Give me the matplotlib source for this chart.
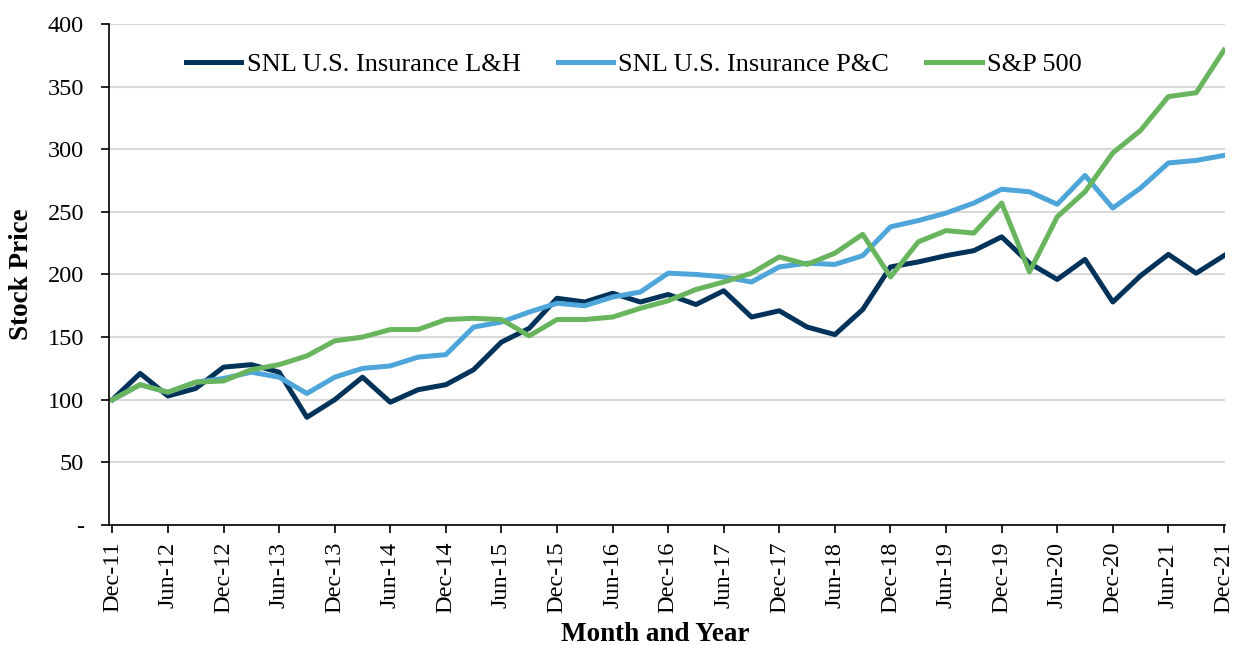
import numpy as np
import matplotlib.pyplot as plt

plt.rcParams['font.family'] = ['Liberation Serif', 'DejaVu Serif']

tick_labels = ["Dec-11", "Jun-12", "Dec-12", "Jun-13", "Dec-13", "Jun-14", "Dec-14",
               "Jun-15", "Dec-15", "Jun-16", "Dec-16", "Jun-17", "Dec-17", "Jun-18",
               "Dec-18", "Jun-19", "Dec-19", "Jun-20", "Dec-20", "Jun-21", "Dec-21"]

# quarterly values, Dec-11 .. Dec-21
lh = [100, 121, 103, 109, 126, 128, 122, 86, 100, 118, 98, 108, 112, 124, 146, 157,
      181, 178, 185, 178, 184, 176, 187, 166, 171, 158, 152, 172, 206, 210, 215, 219,
      230, 209, 196, 212, 178, 199, 216, 201, 215]
pc = [100, 112, 106, 114, 117, 122, 118, 105, 118, 125, 127, 134, 136, 158, 162, 170,
      177, 175, 182, 186, 201, 200, 198, 194, 206, 209, 208, 215, 238, 243, 249, 257,
      268, 266, 256, 279, 253, 269, 289, 291, 295]
sp = [100, 112, 106, 114, 115, 124, 128, 135, 147, 150, 156, 156, 164, 165, 164, 151,
      164, 164, 166, 173, 179, 188, 194, 201, 214, 208, 217, 232, 198, 226, 235, 233,
      257, 202, 246, 266, 297, 315, 342, 345, 379]

x = np.arange(len(lh))

fig = plt.figure(figsize=(12.39, 6.45), dpi=100)
ax = fig.add_axes([0.088, 0.186, 0.901, 0.777])

ax.plot(x, lh, color="#00325a", lw=3.6, label="SNL U.S. Insurance L&H")
ax.plot(x, pc, color="#4ea5d9", lw=3.6, label="SNL U.S. Insurance P&C")
ax.plot(x, sp, color="#68b55e", lw=3.6, label="S&P 500")

ax.set_xlim(-0.12, 40.05)
ax.set_ylim(0, 400)
ax.set_yticks(np.arange(0, 401, 50))
ax.set_yticklabels(["-"] + [str(v) for v in range(50, 401, 50)])
ax.set_xticks(np.arange(0, 41, 2))
ax.set_xticklabels(tick_labels, rotation=90)
ax.tick_params(labelsize=17.5, length=6, width=1.2, direction="out")
ax.tick_params(axis="y", pad=12)
ax.tick_params(axis="x", pad=6)

ax.grid(axis="y", color="#d9d9d9", lw=1.5)
ax.set_axisbelow(True)
for s in ["top", "right"]:
    ax.spines[s].set_visible(False)
for s in ["left", "bottom"]:
    ax.spines[s].set_linewidth(1.2)

ax.set_ylabel("Stock Price", fontsize=19.5, fontweight="bold")
ax.yaxis.set_label_coords(-0.067, 0.5)
ax.set_xlabel("Month and Year", fontsize=19.5, fontweight="bold")
ax.xaxis.set_label_coords(0.489, -0.194)

ax.legend(loc="upper left", bbox_to_anchor=(0.069, 0.943), ncol=3, frameon=False,
          borderpad=0, borderaxespad=0, fontsize=19, handlelength=2.1,
          handletextpad=0.2, columnspacing=1.4)

fig.savefig("out.png", dpi=100)
